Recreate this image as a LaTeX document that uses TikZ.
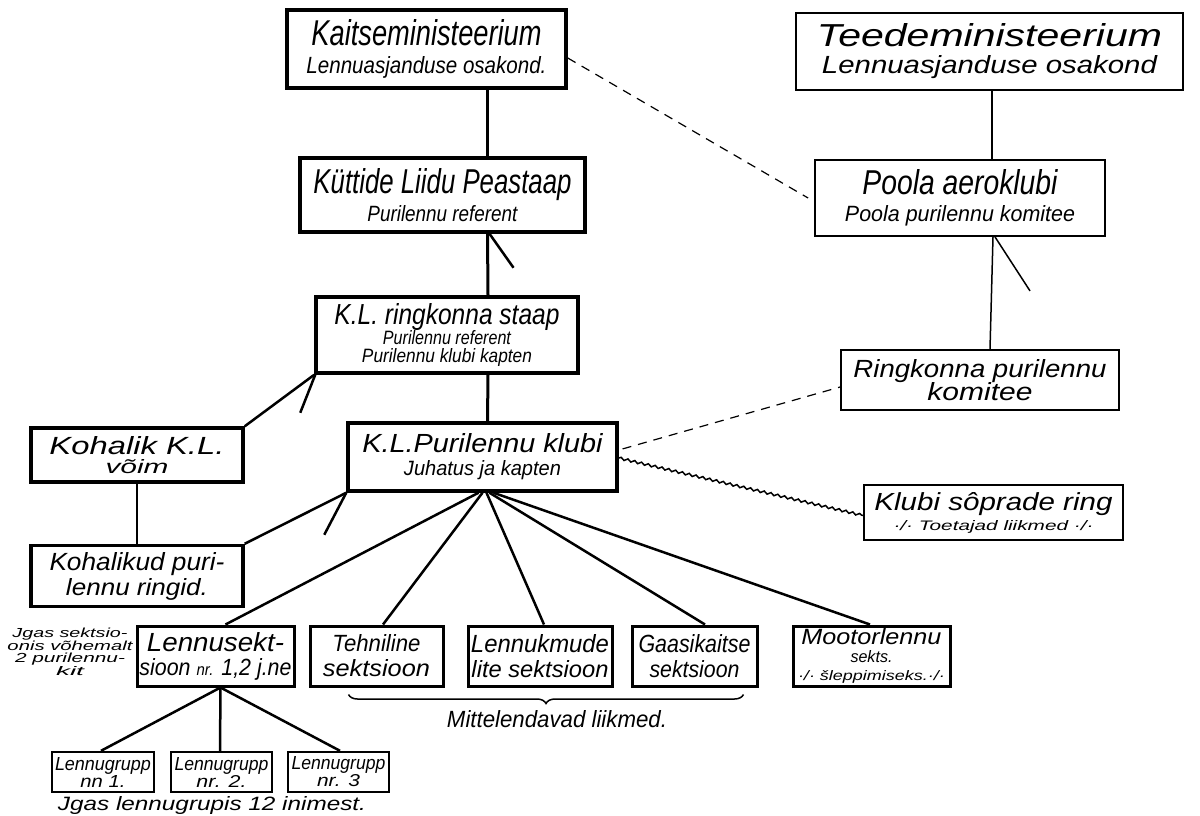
\documentclass[tikz,border=0pt]{standalone}
\usepackage{fontspec}
\usepackage{graphicx}
\usetikzlibrary{decorations.pathmorphing,decorations.pathreplacing,calc}
\newfontfamily\hand{Liberation Sans}
\newcommand\hw[3]{\resizebox{#1pt}{#2pt}{\hand\itshape #3}}
\newcommand\setbs[1]{\baselineskip=#1pt\lineskiplimit=-100pt\lineskip=0pt\relax}
\begin{document}
\begin{tikzpicture}[x=1pt,y=-1pt,
  every node/.style={inner sep=0pt},
  tbox/.style={draw, line width=3.5pt, align=center},
  nbox/.style={draw, line width=1.8pt, align=center},
  sbox/.style={draw, line width=3pt, align=center},
  gbox/.style={draw, line width=2.4pt, align=center},
  plain/.style={align=center},
  bs/.style={font={\setbs{#1}}},
  sz/.style 2 args={minimum width=#1pt, minimum height=#2pt},
  heavy/.style={line width=3pt},
  mid/.style={line width=2.5pt},
  light/.style={line width=1.5pt},
  dashln/.style={line width=1.2pt, dash pattern=on 9pt off 7pt},
]
\useasboundingbox (0,0) rectangle (1200,815);

% top row
\node[tbox, sz={279}{78}, bs=28] (kaitse) at (426.5,49)
  {\hw{230}{26}{Kaitseministeerium}\\\hw{240}{17}{Lennuasjanduse osakond.}};
\node[nbox, sz={387}{77}, bs=27] (teede) at (989.5,51.5)
  {\hw{345}{23}{Teedeministeerium}\\\hw{335}{18}{Lennuasjanduse osakond}};

\node[tbox, sz={285}{74}, bs=28] (kuttide) at (442.5,195)
  {\hw{258}{25}{Küttide Liidu Peastaap}\\\hw{150}{16}{Purilennu referent}};
\node[nbox, sz={290}{76}, bs=27] (poola) at (960,198)
  {\hw{195}{25}{Poola aeroklubi}\\\hw{230}{16}{Poola purilennu komitee}};

\node[tbox, sz={262}{76}, bs=18] (staap) at (447,335)
  {\hw{225}{21}{K.L. ringkonna staap}\\[2pt]\hw{128}{14}{Purilennu referent}\\\hw{170}{14}{Purilennu klubi kapten}};
\node[nbox, sz={278}{60}, bs=23] (komitee) at (980,380)
  {\hw{253}{18}{Ringkonna purilennu}\\\hw{105}{18}{komitee}};

\node[tbox, sz={212}{54}, bs=19] (kohalik) at (137,455)
  {\hw{175}{18}{Kohalik K.L.}\\\hw{63}{14}{võim}};
\node[tbox, sz={269}{68}, bs=23] (klubi) at (482.5,457)
  {\hw{240}{19}{K.L.Purilennu klubi}\\\hw{157}{15}{Juhatus ja kapten}};
\node[nbox, sz={259}{55}, bs=20] (sopr) at (993.5,512.5)
  {\hw{238}{18}{Klubi sôprade ring}\\\hw{200}{10}{·/· Toetajad liikmed ·/·}};

\node[tbox, sz={212}{61}, bs=25] (kohalikud) at (137,576)
  {\hw{175}{18}{Kohalikud puri-}\\\hw{142}{17}{lennu ringid.}};

% sections
\node[sbox, sz={157}{60}, bs=24] (lennusekt) at (215.5,656)
  {\hw{137}{19}{Lennusekt-}\\\hw{152}{17}{sioon {\scriptsize nr.} 1,2 j.ne}};
\node[sbox, sz={133}{60}, bs=25] (tehniline) at (376.5,656)
  {\hw{88}{17}{Tehniline}\\\hw{107}{17}{sektsioon}};
\node[sbox, sz={144}{60}, bs=25] (lennukmude) at (540,656)
  {\hw{138}{18}{Lennukmude}\\\hw{137}{17}{lite sektsioon}};
\node[sbox, sz={125}{60}, bs=25] (gaasi) at (694.5,656)
  {\hw{112}{18}{Gaasikaitse}\\\hw{90}{17}{sektsioon}};
\node[sbox, sz={157}{60}, bs=18] (mootor) at (871.5,656)
  {\hw{140}{16}{Mootorlennu}\\\hw{42}{12}{sekts.}\\\hw{147}{10}{·/· šleppimiseks.·/·}};

\node[plain, bs=12.5] (jgas) at (70,652)
  {\hw{115}{9.5}{Jgas sektsio-}\\\hw{125}{9.5}{onis võhemalt}\\\hw{110}{9.5}{2 purilennu-}\\\hw{28}{9}{kit}};

% groups
\node[gbox, sz={102}{40}, bs=17] (grupp1) at (103,772)
  {\hw{96}{13}{Lennugrupp}\\\hw{45}{12}{nn 1.}};
\node[gbox, sz={101}{40}, bs=17] (grupp2) at (221.5,772)
  {\hw{94}{13}{Lennugrupp}\\\hw{50}{12}{nr. 2.}};
\node[gbox, sz={101}{40}, bs=17] (grupp3) at (338.5,772)
  {\hw{94}{13}{Lennugrupp}\\\hw{43}{12}{nr. 3}};

\node[plain] (jgasgrupp) at (212,805) {\hw{308}{14}{Jgas lennugrupis 12 inimest.}};
\node[plain] (mitte) at (557,719) {\hw{220}{17}{Mittelendavad liikmed.}};

% connectors
\draw[heavy] ([xshift=61pt]kaitse.south) -- ([xshift=45pt]kuttide.north);
\draw[heavy] ([xshift=45pt]kuttide.south) -- ([xshift=41pt]staap.north);
\draw[mid] ([xshift=47pt]kuttide.south) -- ++(24,34);
\draw[heavy] ([xshift=41pt]staap.south) -- ([xshift=5pt]klubi.north);

\draw[light] ([xshift=2.5pt]teede.south) -- ([xshift=32pt]poola.north);
\draw[light] ([xshift=33pt]poola.south) -- ([xshift=10pt]komitee.north);
\draw[light] ([xshift=35pt]poola.south) -- ++(35,54);

\draw[mid] (staap.south west) -- (kohalik.north east);
\draw[mid] ([xshift=1pt]staap.south west) -- ++(-15,38);
\draw[mid] (klubi.south west) -- (kohalikud.north east);
\draw[mid] (klubi.south west) -- ++(-22,42);
\draw[light] (kohalik.south) -- (kohalikud.north);

\draw[mid] ([xshift=-4pt]klubi.south) -- ([xshift=10pt]lennusekt.north);
\draw[mid] ([xshift=0pt]klubi.south) -- ([xshift=6.5pt]tehniline.north);
\draw[mid] ([xshift=4pt]klubi.south) -- ([xshift=4pt]lennukmude.north);
\draw[mid] ([xshift=7pt]klubi.south) -- ([xshift=10.5pt]gaasi.north);
\draw[mid] ([xshift=11pt]klubi.south) -- ([xshift=-1.5pt]mootor.north);

\draw[mid] ([xshift=5pt]lennusekt.south) -- ([xshift=-2pt]grupp1.north);
\draw[mid] ([xshift=5pt]lennusekt.south) -- ([xshift=-1.5pt]grupp2.north);
\draw[mid] ([xshift=5pt]lennusekt.south) -- ([xshift=1.5pt]grupp3.north);

\draw[dashln] ([yshift=-9pt]kaitse.east) -- ([xshift=-6pt]poola.west);
\draw[dashln, shorten <=4pt] ([yshift=7pt]klubi.east) -- ([yshift=-7pt]komitee.west);
\draw[light, decorate, decoration={snake, amplitude=1.2pt, segment length=7pt}]
  ([yshift=-1pt]klubi.east) -- ([yshift=-3pt]sopr.west);

\draw[light, decorate, decoration={brace, mirror, amplitude=9pt}]
  ([xshift=40pt,yshift=-7pt]tehniline.south west) -- ([xshift=-15pt,yshift=-7pt]gaasi.south east);
\end{tikzpicture}
\end{document}
